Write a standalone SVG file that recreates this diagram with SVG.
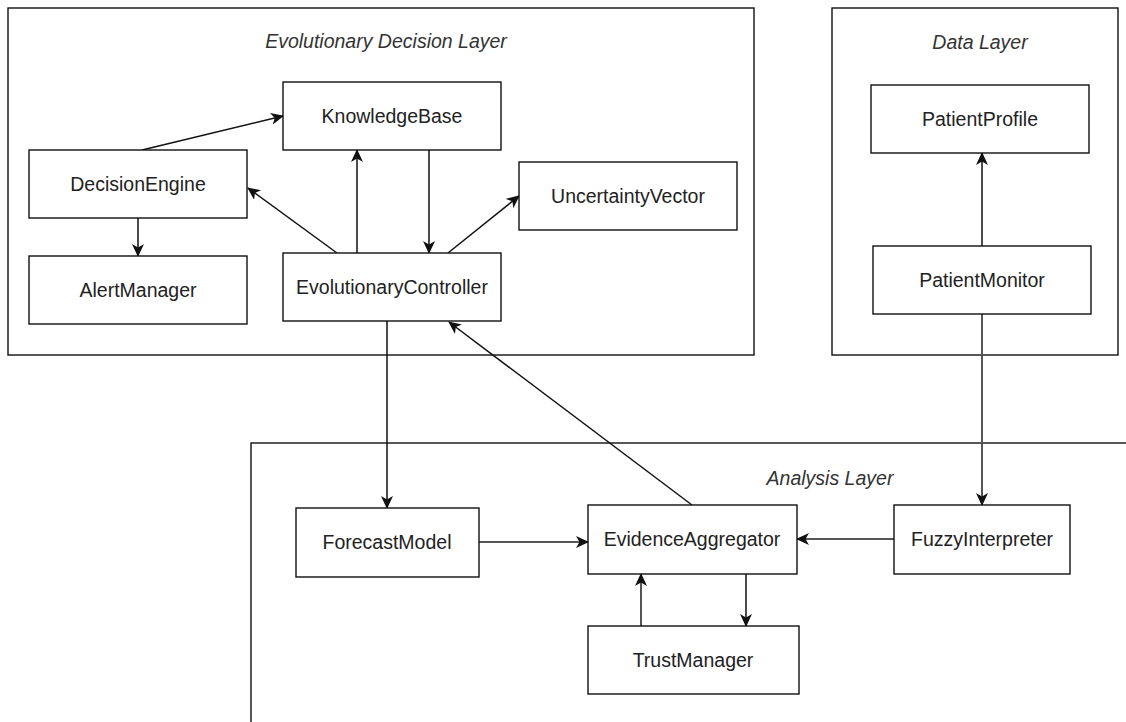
<svg xmlns="http://www.w3.org/2000/svg" width="1126" height="722" viewBox="0 0 1126 722">
<defs>
<marker id="arr" markerUnits="userSpaceOnUse" markerWidth="13" markerHeight="12" viewBox="0 0 13 12" refX="12" refY="6" orient="auto">
<path d="M0,0 L13,6 L0,12 L3.5,6 z" fill="#111"/>
</marker>
</defs>
<style>
.layer{fill:#fff;stroke:#111;stroke-width:1.4}
.box{fill:#fff;stroke:#111;stroke-width:1.4}
.lbl{font-family:"Liberation Sans",Arial,sans-serif;font-size:19.5px;fill:#222;text-anchor:middle}
.ttl{font-family:"Liberation Sans",Arial,sans-serif;font-size:19.5px;font-style:italic;fill:#333;text-anchor:middle}
.c{fill:none;stroke:#111;stroke-width:1.5;marker-end:url(#arr)}
.g{fill:none;stroke:#555;stroke-width:2;marker-end:url(#arr)}
</style>
<rect width="1126" height="722" fill="#fff"/>
<g id="layer-evolutionary">
<rect class="layer" x="8" y="8" width="746" height="347"/>
<text class="ttl" x="386" y="48">Evolutionary Decision Layer</text>
</g>
<g id="layer-data">
<rect class="layer" x="832" y="8" width="286" height="347"/>
<text class="ttl" x="980" y="49">Data Layer</text>
</g>
<g id="layer-analysis">
<rect class="layer" x="251" y="443" width="890" height="300"/>
<text class="ttl" x="830" y="485">Analysis Layer</text>
</g>
<g id="connectors">
<line class="c" x1="142" y1="150" x2="283" y2="116"/>
<line class="c" x1="337" y1="253" x2="248" y2="188"/>
<line class="c" x1="357" y1="253" x2="357" y2="150"/>
<line class="c" x1="429" y1="150" x2="429" y2="253"/>
<line class="c" x1="448" y1="253" x2="519" y2="196"/>
<line class="c" x1="138" y1="218" x2="138" y2="256"/>
<line class="c" x1="387" y1="321" x2="387" y2="508"/>
<line class="c" x1="692" y1="505" x2="449" y2="322"/>
<line class="g" x1="479" y1="542" x2="588" y2="542"/>
<line class="g" x1="894" y1="539" x2="797" y2="539"/>
<line class="g" x1="641" y1="626" x2="641" y2="574"/>
<line class="c" x1="746" y1="574" x2="746" y2="626"/>
<line class="g" x1="982" y1="314" x2="982" y2="505"/>
<line class="c" x1="982" y1="246" x2="982" y2="153"/>
</g>
<g id="KnowledgeBase"><rect class="box" x="283" y="82" width="218" height="68"/><text class="lbl" x="392" y="123">KnowledgeBase</text></g>
<g id="DecisionEngine"><rect class="box" x="29" y="150" width="218" height="68"/><text class="lbl" x="138" y="191">DecisionEngine</text></g>
<g id="AlertManager"><rect class="box" x="29" y="256" width="218" height="68"/><text class="lbl" x="138" y="297">AlertManager</text></g>
<g id="EvolutionaryController"><rect class="box" x="283" y="253" width="218" height="68"/><text class="lbl" x="392" y="294">EvolutionaryController</text></g>
<g id="UncertaintyVector"><rect class="box" x="519" y="162" width="218" height="68"/><text class="lbl" x="628" y="203">UncertaintyVector</text></g>
<g id="PatientProfile"><rect class="box" x="871" y="85" width="218" height="68"/><text class="lbl" x="980" y="126">PatientProfile</text></g>
<g id="PatientMonitor"><rect class="box" x="873" y="246" width="218" height="68"/><text class="lbl" x="982" y="287">PatientMonitor</text></g>
<g id="ForecastModel"><rect class="box" x="296" y="508" width="183" height="69"/><text class="lbl" x="387" y="549">ForecastModel</text></g>
<g id="EvidenceAggregator"><rect class="box" x="588" y="505" width="209" height="69"/><text class="lbl" x="692" y="546">EvidenceAggregator</text></g>
<g id="TrustManager"><rect class="box" x="588" y="626" width="211" height="68"/><text class="lbl" x="693" y="667">TrustManager</text></g>
<g id="FuzzyInterpreter"><rect class="box" x="894" y="505" width="176" height="69"/><text class="lbl" x="982" y="546">FuzzyInterpreter</text></g>
</svg>
